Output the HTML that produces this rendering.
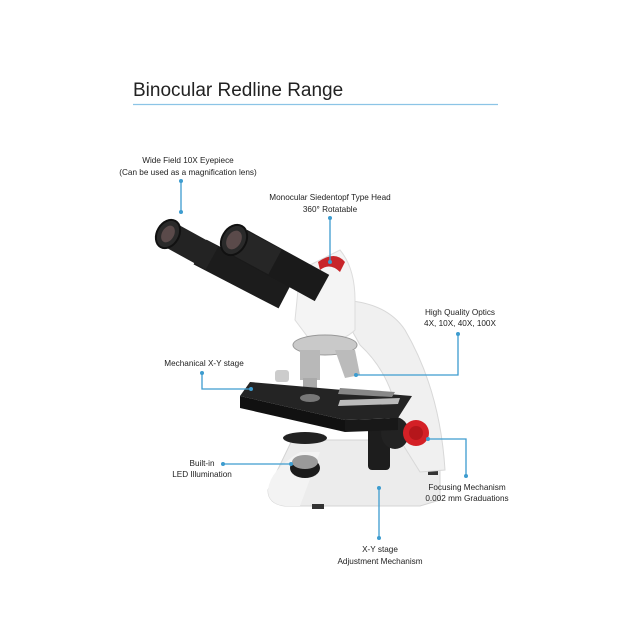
<!DOCTYPE html>
<html><head><style>
html,body{margin:0;padding:0;background:#fff;}
svg{display:block}
text{font-family:"Liberation Sans",sans-serif;fill:#222;}
.l{font-size:8.2px;text-anchor:middle}
.c{stroke:#3d9ccf;stroke-width:1.3;fill:none}
.d{fill:#3d9ccf}
</style></head><body>
<svg width="630" height="630" viewBox="0 0 630 630" xmlns="http://www.w3.org/2000/svg">
<rect width="630" height="630" fill="#fff"/>
<text x="133" y="96" style="font-size:19px" fill="#222">Binocular Redline Range</text>
<line x1="133" y1="104.5" x2="498" y2="104.5" stroke="#8cc4e6" stroke-width="1.2"/>

<!-- base -->
<path d="M292,440 L440,440 L440,500 L420,506 L285,506 Q268,504 268,490 Z" fill="#ececec" stroke="#d4d4d4"/>
<path d="M268,490 Q270,470 300,452 L320,452 L300,506 L285,506 Q268,504 268,490Z" fill="#f3f3f3"/>
<rect x="312" y="504" width="12" height="5" fill="#333"/>
<rect x="428" y="470" width="10" height="5" fill="#333"/>
<!-- arm -->
<path d="M335,300 Q385,300 405,330 Q440,390 445,470 L420,472 L400,440 Q398,380 360,345 Z" fill="#f0f0f0" stroke="#d8d8d8"/>
<!-- head -->
<path d="M300,270 L340,250 Q355,268 355,300 L355,330 Q340,345 310,340 L295,320 Z" fill="#f4f4f4" stroke="#ddd"/>
<path d="M318,262 Q335,250 345,262 L340,272 Q330,262 320,270Z" fill="#c8252a"/>
<!-- nosepiece / objectives -->
<ellipse cx="325" cy="345" rx="32" ry="10" fill="#c9c9c9" stroke="#999"/>
<rect x="300" y="350" width="20" height="30" fill="#b8b8b8"/>
<rect x="303" y="378" width="14" height="10" fill="#aaa"/>
<path d="M335,350 L355,350 L360,375 L345,378Z" fill="#bbb"/>
<!-- focus knobs -->
<rect x="368" y="420" width="22" height="50" rx="4" fill="#1d1d1d"/>
<ellipse cx="395" cy="433" rx="14" ry="16" fill="#222"/>
<circle cx="416" cy="433" r="13" fill="#d42026"/>
<circle cx="416" cy="433" r="7" fill="#b5161b"/>
<!-- condenser -->
<ellipse cx="305" cy="438" rx="22" ry="6" fill="#222"/>
<!-- light -->
<ellipse cx="305" cy="468" rx="15" ry="10" fill="#1b1b1b"/>
<ellipse cx="305" cy="462" rx="13" ry="7" fill="#9a9a9a"/>
<!-- stage -->
<path d="M240,396 L250,382 L412,396 L398,418 L345,420 Z" fill="#242424"/>
<path d="M240,396 L345,420 L345,432 L240,408 Z" fill="#111"/>
<path d="M345,420 L398,418 L398,430 L345,432Z" fill="#181818"/>
<ellipse cx="310" cy="398" rx="10" ry="4" fill="#777"/>
<path d="M340,400 L400,398 L398,404 L338,406Z" fill="#bbb"/>
<path d="M340,388 L395,392 L392,397 L338,394Z" fill="#888"/>
<rect x="275" y="370" width="14" height="12" rx="3" fill="#ccc"/>
<!-- eyepieces -->
<line x1="200" y1="252" x2="285" y2="296" stroke="#1c1c1c" stroke-width="28"/>
<line x1="172" y1="236" x2="212" y2="258" stroke="#232323" stroke-width="26"/>
<ellipse cx="168" cy="234" rx="11" ry="15" transform="rotate(30 168 234)" fill="#2a2a2a" stroke="#111" stroke-width="2"/>
<ellipse cx="168" cy="234" rx="6" ry="9" transform="rotate(30 168 234)" fill="#5a4a4a"/>
<line x1="240" y1="243" x2="322" y2="288" stroke="#1a1a1a" stroke-width="30"/>
<line x1="236" y1="241" x2="275" y2="262" stroke="#262626" stroke-width="28"/>
<ellipse cx="234" cy="240" rx="12" ry="16" transform="rotate(30 234 240)" fill="#2a2a2a" stroke="#111" stroke-width="2"/>
<ellipse cx="234" cy="240" rx="7" ry="10" transform="rotate(30 234 240)" fill="#5a4a4a"/>

<!-- connectors -->
<g>
<polyline class="c" points="181,181 181,212"/><circle class="d" cx="181" cy="181" r="2"/><circle class="d" cx="181" cy="212" r="2"/>
<polyline class="c" points="330,218 330,262"/><circle class="d" cx="330" cy="218" r="2"/><circle class="d" cx="330" cy="262" r="2"/>
<polyline class="c" points="458,334 458,375 356,375"/><circle class="d" cx="458" cy="334" r="2"/><circle class="d" cx="356" cy="375" r="2"/>
<polyline class="c" points="202,373 202,389 251,389"/><circle class="d" cx="202" cy="373" r="2"/><circle class="d" cx="251" cy="389" r="2"/>
<polyline class="c" points="223,464 291,464"/><circle class="d" cx="223" cy="464" r="2"/><circle class="d" cx="291" cy="464" r="2"/>
<polyline class="c" points="428,439 466,439 466,476"/><circle class="d" cx="428" cy="439" r="2"/><circle class="d" cx="466" cy="476" r="2"/>
<polyline class="c" points="379,488 379,538"/><circle class="d" cx="379" cy="488" r="2"/><circle class="d" cx="379" cy="538" r="2"/>
</g>
<!-- labels -->
<text class="l" x="188" y="163">Wide Field 10X Eyepiece</text>
<text class="l" x="188" y="175">(Can be used as a magnification lens)</text>
<text class="l" x="330" y="200">Monocular Siedentopf Type Head</text>
<text class="l" x="330" y="212">360° Rotatable</text>
<text class="l" x="460" y="315">High Quality Optics</text>
<text class="l" x="460" y="326">4X, 10X, 40X, 100X</text>
<text class="l" x="204" y="366">Mechanical X-Y stage</text>
<text class="l" x="202" y="466">Built-in</text>
<text class="l" x="202" y="477">LED Illumination</text>
<text class="l" x="467" y="490">Focusing Mechanism</text>
<text class="l" x="467" y="501">0.002 mm Graduations</text>
<text class="l" x="380" y="552">X-Y stage</text>
<text class="l" x="380" y="564">Adjustment Mechanism</text>
</svg>
</body></html>
